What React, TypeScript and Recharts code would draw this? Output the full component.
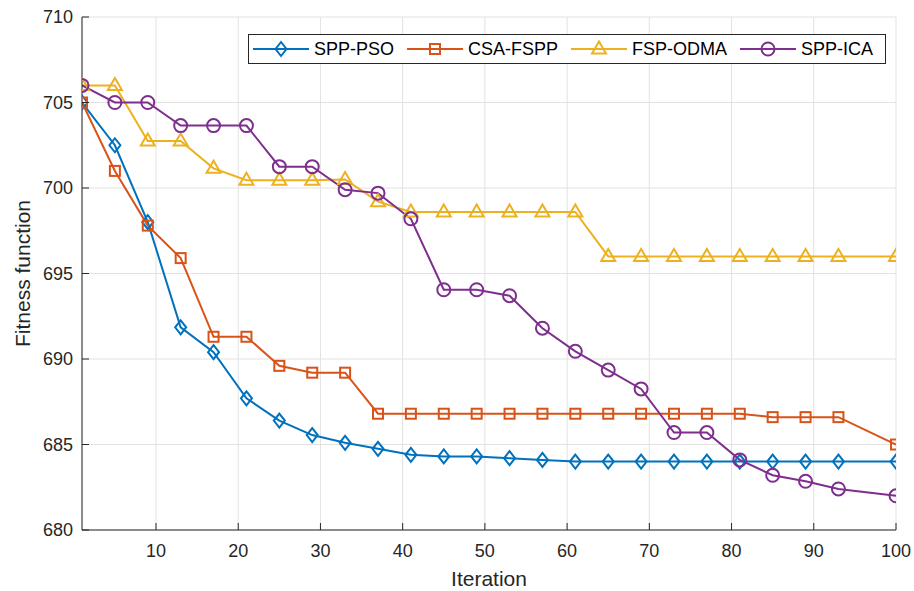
import React from 'react';
import { LineChart, Line, XAxis, YAxis, CartesianGrid } from 'recharts';

const iterations = [1, 5, 9, 13, 17, 21, 25, 29, 33, 37, 41, 45, 49, 53, 57, 61, 65, 69, 73, 77, 81, 85, 89, 93, 100];
const sppPso = [705, 702.5, 698, 691.85, 690.4, 687.7, 686.4, 685.55, 685.1, 684.75, 684.4, 684.3, 684.3, 684.2, 684.1, 684, 684, 684, 684, 684, 684, 684, 684, 684, 684];
const csaFspp = [705, 701, 697.8, 695.9, 691.3, 691.3, 689.6, 689.2, 689.2, 686.8, 686.8, 686.8, 686.8, 686.8, 686.8, 686.8, 686.8, 686.8, 686.8, 686.8, 686.8, 686.6, 686.6, 686.6, 685];
const fspOdma = [706, 706, 702.75, 702.75, 701.15, 700.45, 700.45, 700.45, 700.5, 699.2, 698.6, 698.6, 698.6, 698.6, 698.6, 698.6, 696, 696, 696, 696, 696, 696, 696, 696, 696];
const sppIca = [706, 705, 705, 703.65, 703.65, 703.65, 701.25, 701.25, 699.9, 699.7, 698.2, 694.05, 694.05, 693.7, 691.8, 690.45, 689.35, 688.25, 685.7, 685.7, 684.1, 683.2, 682.85, 682.4, 682];

const xTicks = [10, 20, 30, 40, 50, 60, 70, 80, 90, 100];
const yTicks = [680, 685, 690, 695, 700, 705, 710];

const seriesNames = ['SPP-PSO', 'CSA-FSPP', 'FSP-ODMA', 'SPP-ICA'];
const seriesKeys = ['pso', 'csa', 'odma', 'ica'];
const seriesColors = ['#0072BD', '#D95319', '#EDB120', '#7E2F8E'];
const seriesShapes = ['diamond', 'square', 'triangle', 'circle'];

const data = iterations.map((it, i) => ({
  it,
  pso: sppPso[i],
  csa: csaFspp[i],
  odma: fspOdma[i],
  ica: sppIca[i],
}));

const FONT = '"Liberation Sans", Arial, Helvetica, sans-serif';
const AXIS_COLOR = '#262626';

function Marker({ shape, cx, cy, color }: { shape: string; cx: number; cy: number; color: string }) {
  const sw = 2;
  if (shape === 'diamond') {
    return (
      <polygon
        points={`${cx},${cy - 7} ${cx + 5.5},${cy} ${cx},${cy + 7} ${cx - 5.5},${cy}`}
        fill="none"
        stroke={color}
        strokeWidth={sw}
      />
    );
  }
  if (shape === 'square') {
    return <rect x={cx - 5} y={cy - 5} width={10} height={10} fill="none" stroke={color} strokeWidth={sw} />;
  }
  if (shape === 'triangle') {
    return (
      <polygon
        points={`${cx},${cy - 7.5} ${cx + 7},${cy + 4.5} ${cx - 7},${cy + 4.5}`}
        fill="none"
        stroke={color}
        strokeWidth={sw}
      />
    );
  }
  return <circle cx={cx} cy={cy} r={6.5} fill="none" stroke={color} strokeWidth={sw} />;
}

const makeDot = (shape: string, color: string) => (p: any) => {
  if (p.cx == null || p.cy == null) return <g key={`e-${p.index}`} />;
  return (
    <g key={`${shape}-${p.index}`}>
      <Marker shape={shape} cx={p.cx} cy={p.cy} color={color} />
    </g>
  );
};

const YTick = (props: any) => {
  const { x, y, payload } = props;
  const axisX = x + 9;
  return (
    <g>
      <line x1={axisX} x2={axisX + 7} y1={y} y2={y} stroke={AXIS_COLOR} strokeWidth={1} />
      <text x={x} y={y} textAnchor="end" dominantBaseline="central" fill={AXIS_COLOR} fontSize={18} fontFamily={FONT}>
        {payload.value}
      </text>
    </g>
  );
};

const XTick = (props: any) => {
  const { x, y, payload } = props;
  const axisY = y;
  return (
    <g>
      <line x1={x} x2={x} y1={axisY} y2={axisY - 7} stroke={AXIS_COLOR} strokeWidth={1} />
      <text x={x} y={axisY + 27} textAnchor="middle" fill={AXIS_COLOR} fontSize={18} fontFamily={FONT}>
        {payload.value}
      </text>
    </g>
  );
};

const LegendBox = () => (
  <div
    style={{
      position: 'absolute',
      left: 248,
      top: 34,
      display: 'flex',
      alignItems: 'center',
      border: '1px solid #262626',
      background: '#fff',
      height: 28,
      width: 632,
      boxSizing: 'content-box',
      fontFamily: FONT,
      fontSize: 18,
      color: '#000',
      paddingLeft: 4,
    }}
  >
    {seriesNames.map((name, i) => (
      <div key={name} style={{ display: 'flex', alignItems: 'center', marginRight: 13 }}>
        <svg width={56} height={20} style={{ display: 'block' }}>
          <line x1={0} x2={56} y1={10} y2={10} stroke={seriesColors[i]} strokeWidth={2} />
          <Marker shape={seriesShapes[i]} cx={28} cy={10} color={seriesColors[i]} />
        </svg>
        <span style={{ marginLeft: 5, whiteSpace: 'nowrap' }}>{name}</span>
      </div>
    ))}
  </div>
);

const YLabel = (props: any) => {
  const { viewBox } = props;
  const cx = viewBox.x + 22;
  const cy = viewBox.y + viewBox.height / 2;
  return (
    <text
      x={cx}
      y={cy}
      transform={`rotate(-90, ${cx}, ${cy})`}
      textAnchor="middle"
      dominantBaseline="central"
      fill={AXIS_COLOR}
      fontSize={21}
      fontFamily={FONT}
    >
      Fitness function
    </text>
  );
};

const XLabel = (props: any) => {
  const { viewBox } = props;
  const cx = viewBox.x + viewBox.width / 2;
  const y = viewBox.y + 56;
  return (
    <text x={cx} y={y} textAnchor="middle" fill={AXIS_COLOR} fontSize={21} fontFamily={FONT}>
      Iteration
    </text>
  );
};

export default function App() {
  return (
    <div style={{ position: 'absolute', left: 0, top: 0, width: 914, height: 591, background: '#fff', fontFamily: FONT }}>
      <LineChart width={914} height={591} data={data} margin={{ top: 17, right: 18, left: 0, bottom: 0 }}>
        <CartesianGrid stroke="#e2e2e2" strokeWidth={1} />
        <XAxis
          dataKey="it"
          type="number"
          domain={[1, 100]}
          ticks={xTicks}
          height={61}
          tickSize={0}
          tickMargin={0}
          tickLine={false}
          axisLine={{ stroke: AXIS_COLOR, strokeWidth: 1 }}
          tick={<XTick />}
          interval={0}
          allowDataOverflow
          label={<XLabel />}
        />
        <YAxis
          type="number"
          domain={[680, 710]}
          ticks={yTicks}
          width={82}
          tickSize={0}
          tickMargin={9}
          tickLine={false}
          axisLine={{ stroke: AXIS_COLOR, strokeWidth: 1 }}
          tick={<YTick />}
          interval={0}
          allowDataOverflow
          label={<YLabel />}
        />
        {seriesKeys.map((k, i) => (
          <Line
            key={k}
            dataKey={k}
            name={seriesNames[i]}
            type="linear"
            stroke={seriesColors[i]}
            strokeWidth={2}
            dot={makeDot(seriesShapes[i], seriesColors[i])}
            activeDot={false}
            isAnimationActive={false}
          />
        ))}
      </LineChart>
      <LegendBox />
    </div>
  );
}
